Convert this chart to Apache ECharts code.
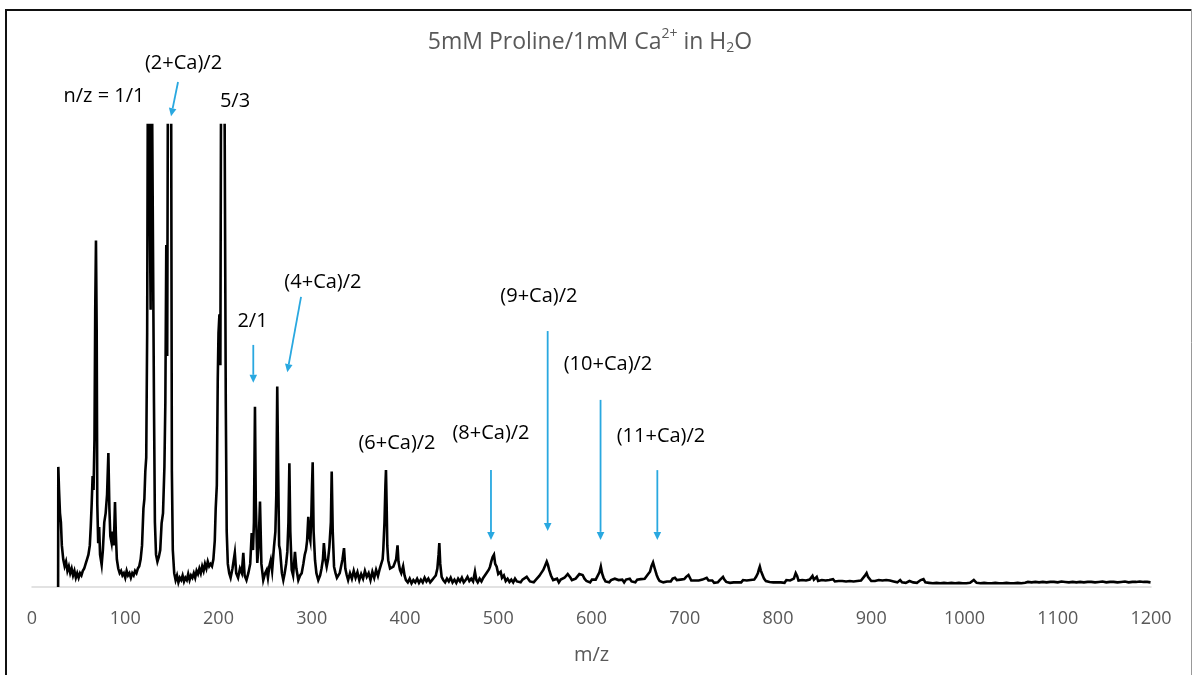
<!DOCTYPE html>
<html><head><meta charset="utf-8">
<script src="https://cdn.jsdelivr.net/npm/echarts@6/dist/echarts.min.js"></script>
<style>html,body{margin:0;padding:0;background:#fff}#c{width:1193px;height:675px}</style>
</head><body><div id="c"></div>
<script>
// ---- data ----
const chartTitleParts = ['5mM Proline/1mM Ca', '2+', ' in H', '2', 'O'];
const xAxisName = 'm/z';
const xTickMin = 0, xTickMax = 1200, xTickStep = 100;

// [m/z, relative intensity] (values above 100 are off-scale / clipped)
const spectrum = [
[28,0],[28.2,26],[29,21],[30,16],[31,14],[32,9],[33.5,6],[35,4.5],[36.5,5.5],[38,3.5],[39.5,4.5],[41,3],[42.5,4],[44,2.5],[45.5,3.5],[47,2],[48.5,3],[50,2],[51.5,3],[53,2.5],[54.5,3.5],[56,4],[57.5,5],[59,6],[60.5,7],[62,9],[63,13],[64,18],[65,24],[66,21],[67,32],[67.8,60],[68.6,75],[69.4,55],[70,18],[71,9.5],[72,13],[73,7],[74.7,4.8],[76,8],[77.5,14],[79,16],[80.5,20],[81.9,29],[83,17],[84,11],[85.4,9.5],[86.5,12],[87.5,9],[88.3,13],[89,18.4],[90,11],[91,6],[92.5,4],[94,3],[95.5,3.5],[97,2.5],[98.5,3],[100,2],[101.5,3.5],[103,2.5],[104.5,3],[106,2],[107.5,3],[109,2.5],[110.5,3.5],[112,3],[113.5,4],[115,4.5],[116.5,6],[118,9],[119.5,17],[120.5,19],[121.5,25],[122.5,28],[123.5,55],[124.5,130],[125.5,130],[126.5,130],[127.2,60],[128,130],[129,130],[130,130],[130.8,40],[131.8,14],[133,7],[134.5,5.5],[136,6.5],[137.5,8],[139,13.8],[140.5,16],[142,26],[143,40],[144,74],[145,50],[146,130],[147,130],[148,130],[149,130],[150,25],[151,8],[152.5,3],
[154,1.5],[155.5,2.5],[157,1],[158.5,2],[160,1.5],[161.5,2.5],[163,1.2],[164.5,2],[166,1.5],[167.5,2.8],[169,1.5],[170.5,2.5],[172,2],[173.5,3],[175,2],[176.5,3.5],[178,2.8],[179.5,4],[181,3],[182.5,4.5],[184,3.5],[185.5,5],[187,4],[188.5,5.5],[190,4.5],[191.5,5],[193,4.5],[194.5,6],[196,10],[197,17],[198.2,22],[199.2,45],[200,55],[201,59],[202,48],[203,130],[204,130],[205,130],[206,130],[207,130],[207.8,40],[208.8,12],[210,5],[211.5,3],
[213,2],[215,4],[217.5,7.4],[219,3],[221,2],[223,4],[225,3],[226.6,7.4],[228,2.5],[230,1.5],[232,3],[234,5],[235.6,11.7],[237,8],[238,14],[239.1,39],[240,18],[241.6,5.2],[243,9],[244.5,18.5],[246,5],[248,1.5],[250,3],[251.7,3.7],[253,2],[254.5,4.5],[256,5.8],[257.5,3.5],[259.5,8.7],[261,12],[262,20],[263,43.4],[264,25],[265,9],[266,8],[268,3],[269.5,1.5],[271,3],[272.5,5],[273.8,7.6],[275,14],[276,26.8],[277,12],[278.5,3.7],[280,2.5],[282,7.6],[283.5,4],[285.6,1.5],[287.5,2.5],[289.2,3],[291,5],[292.5,7],[293.8,8],[295,10],[296.3,15.2],[297.5,11],[298.5,10],[299.5,15],[300.3,22],[301,27],[302,12],[303.5,5.8],[305,3],[307,1.5],[309,2.5],[310.5,4],[312,6],[313,9.5],[314.5,6],[316,4.4],[317.5,6],[318.9,8.7],[320.5,14],[321.4,25],[322.5,12],[323.9,4.4],[325.5,3],[327,2],[328.5,2.2],[330,3],[331.5,4.5],[333,6],[334.6,8.4],[336,4],[337.5,2.6],
[339,1.5],[341,3],[343,1.8],[345,3.5],[347,2],[349,3.2],[351,1.5],[353,2.8],[355,1.8],[357,3.5],[359,2.2],[361,3],[363,1.5],[365,3.3],[367,2],[369,3.7],[371,2.4],[373,4],[374.5,5],[376,6],[376.7,8],[378,14],[379,22],[379.6,25.3],[380.3,18],[381,9],[382,5.8],[384,4],[385.6,3.7],[387.5,4.4],[389.3,4.4],[390.5,6],[392,9],[393,5.5],[394.6,3.7],[396,3],[398,4.5],[399.5,2.5],[401,1.5],[403,1],[405,1.8],[407,0.8],[409,1.5],[411,1],[413,1.8],[415,0.9],[417,1.6],[419,1],[421,2],[423,1.2],[425,1.8],[427,1],[429,1.5],[431,2],[433,2.5],[434.7,4],[436,7],[436.8,9.5],[437.8,5],[439.3,2.2],[441,1.5],[443,1],
[445,1.8],[447,1.2],[449,2],[451,1],[453,1.6],[455,0.9],[457,1.8],[459,1.2],[461,2],[463,1],[465,1.5],[467,2.2],[469,1.3],[471,1.8],[473,1.2],[475,3.3],[476.5,1.5],[478,1],[480,1.8],[482,1.2],[484,2],[486,2.6],[488,3.2],[490,3.8],[491.2,4.4],[492.5,5.5],[494,6.5],[495.4,7],[496.7,5],[498.3,4.4],[500,2.8],[502.6,3.3],[504,2],[506,2.5],[508,1.3],[510,1.8],[512,1.1],[514,1.6],[516,1],[518,1.8],[520,1.2],[522,1.5],[524,1],[526,1.6],[528,2],[530.5,2.2],[532,1.8],[534,1.2],[536,1.6],[538,1],[540,1.5],[542,1.8],[544,2.4],[546,3],[548.3,3.7],[550,4.5],[552,5.5],[553.3,4.8],[554.6,3.7],[556.5,2.5],[558.9,1.5],[561,1.2],[563,1.8],[565,1],[567,1.6],[569,1.2],[571,2],[573,2.4],[574.5,2.8],[576,3],[577.5,2],[579,1.5],[581,1.3],[583,1.8],[585,2.2],[587,2.8],[588.7,3.1],[590.5,2.6],[592.5,1.8],[594.6,1.3],[596.5,1.5],[598.5,1],[600.5,1.6],[602.5,1.2],[604.5,1.6],[606.5,2],[608.5,3.2],[610,4.4],[611.3,3],[612.9,2],[615,1.2],[617,1.6],[619,1],[621,1.5],[623,1.2],[625,1.8],[627,2],[629,1.5],[631,1.2],[633,1.6],[635,1],[637,1.6],[639,1.2],[641,1.8],[643,1.2],[645,1.5],[647,1],[649,1.6],[651,1.2],[653,1.7],[655,1.4],[657,1.8],[659,2.2],[660.8,2.8],[662.7,3.3],[664.3,4.5],[666,5.3],[667.8,4],[669.9,2.6],[671.5,1.8],[673,1.3],[675,1.5],[677,1],[679,1.4],[681,1.2],[683,1.6],[685,1.2],[687,1.8],[689.5,2],[691.5,1.5],[693.5,1.2],[695.5,1.6],[697.5,1.2],[699.5,1.7],[701.5,2.2],[703,2.5],[704,2.6],[705.5,2],[707,1.4],[709,1],[711,1.4],[713,1.1],[715,1.4],[717,1],[719,1.6],[721,1.8],[723.5,2],[725.5,1.4],[727.5,1],[729.5,1.4],[731.5,0.9],[733.5,1.3],[735.5,1],[737.5,1.5],[739,1.9],[741,2.2],[742.5,1.6],[744.5,1.1],[746.5,1.4],[748.5,0.9],[750.5,1.3],[752.5,1],[754.5,1.4],[756.5,1],[758.5,1.3],[760.5,1],[762.5,1.5],[764.5,1.2],[766.5,1.4],[768.5,1],[770.5,1.5],[772.5,1.1],[774.5,1.6],[776.5,2.2],[778.5,3],[779.5,3.8],[780.5,4.4],[781.5,3.6],[783,2.8],[785,1.8],[787,1.3],[789,1.6],[791,1.1],[793,1.4],[795,1],[797,1.3],[799,1],
[801,1.4],[803,1],[805,1.3],[807,0.9],[809,1.5],[811,1.1],[813,1.4],[815,1.2],[817,1.8],[819,3],[820.5,2.4],[822,1.4],[824,1],[826,1.5],[828,1.1],[830,1.4],[832,1.2],[834,1.6],[836,1.9],[837,2.4],[838.5,1.6],[840,2],[841.5,2.2],[843,1.3],[845,1.1],[847,1.5],[849,1.2],[851,1.4],[853,1.1],[855,1.5],[857,1.6],[859,1.7],[861,1.2],[863,1],[865,1.3],[867,1],[869,1.3],[871,0.9],[873,1.2],[875,1],[877,1.3],[879,0.9],[881,1.2],[883,1],[885,1.3],[887,1.1],[889,1.4],[891,1.6],[893,2.4],[895,3],[896.5,2.2],[898,2],[900,1.3],[902,1],[904,1.3],[906,1],[908,1.5],[910,1.1],[912,1.4],[914,1],[916,1.5],[918,1.1],[920,1.4],[922,1.7],[924,1.2],[926,1.5],[928,1],[930,1.3],[931,1.5],[933,1],[935,1.3],[937,0.9],[939,1.2],[941,1.3],[943,1.7],[945,1],[947,1.3],[949,0.9],[951,1.2],[953,1.5],[955,1.1],[956,1.7],[958,1],[960,1.3],[962,0.9],[964,1.2],[966,0.8],[968,1.1],[970,0.9],[972,1.2],[974,0.8],[976,1.1],[978,0.9],[980,1.2],[982,0.8],[984,1.1],[986,0.9],[988,1.2],[990,0.8],[992,1],[994,0.9],[996,1.1],[998,0.8],[1000,1.1],[1002,0.8],[1004,1],[1006,0.9],[1008,1.2],[1010,1.5],[1011,1.3],[1013,0.9],[1015,1.1],[1017,0.8],[1019,1.1],[1021,0.9],[1023,1.2],[1025,0.8],[1027,1],[1029,0.8],[1031,1.1],[1033,0.9],[1035,1.1],[1037,0.8],[1039,1],[1041,0.8],[1043,1.1],[1045,0.9],[1047,1.1],[1049,0.8],[1051,1],[1053,0.8],[1055,1.1],[1057,0.9],[1059,1],[1061,0.8],[1063,1.1],[1065,0.9],[1067,1.2],[1068,1.1],[1070,0.8],[1072,1],[1074,0.8],[1076,1.1],[1078,0.8],[1080,1],[1082,0.9],[1084,1.1],[1086,0.8],[1088,1],[1090,0.8],[1092,1.1],[1094,0.9],[1096,1.1],[1098,0.8],[1100,1],[1102,0.8],[1104,1.2],[1106,0.9],[1108,1.1],[1110,0.8],[1112,1],[1114,0.8],[1116,1.1],[1118,0.9],[1120,1],[1122,0.8],[1124,1.1],[1126,0.8],[1128,1],[1130,0.8],[1132,1.1],[1134,1.3],[1136,1.1],[1138,0.8],[1140,1],[1142,0.8],[1144,1.1],[1146,0.9],[1148,1.2],[1150,0.8],[1152,1],[1154,0.8],[1156,1.1],[1158,0.9],[1160,1.1],[1162,0.8],[1164,1],[1166,0.8],[1168,1.1],[1170,0.9],[1172,1.2],[1174,0.8],[1176,1],[1178,0.8],[1180,1.1],[1182,0.9],[1184,1.1],[1186,0.8],[1188,1.2],[1190,0.9],[1192,1.1],[1194,0.8],[1196,1.1],[1198,0.9],[1199.5,1]
];

// annotation text labels: [label, m/z, intensity] (label centre)
const annotationLabels = [
  ['n/z = 1/1', 77.2, 106.3],
  ['(2+Ca)/2', 162.5, 113.4],
  ['5/3', 217.7, 105.2],
  ['2/1', 236.5, 57.6],
  ['(4+Ca)/2', 312, 66.0],
  ['(9+Ca)/2', 543.6, 63.0],
  ['(10+Ca)/2', 617.7, 48.3],
  ['(6+Ca)/2', 391.4, 31.2],
  ['(8+Ca)/2', 492.2, 33.3],
  ['(11+Ca)/2', 674.5, 32.7]
];
// annotation arrows: [fromMz, fromI, toMz, toI] (arrow head at "to")
const annotationArrows = [
  [156.6, 109.3, 149.1, 101.9],
  [237.3, 52.4, 237.3, 44.2],
  [288.5, 62.8, 273.8, 46.5],
  [492.2, 25.3, 492.2, 10.2],
  [553.0, 55.4, 553.0, 12.1],
  [609.7, 40.5, 609.7, 10.2],
  [670.6, 25.3, 670.6, 10.2]
];

// ---- chart ----
const FONT = '"Open Sans", "DejaVu Sans", sans-serif';
const chart = echarts.init(document.getElementById('c'), null, {renderer: 'canvas'});
chart.setOption({
  animation: false,
  backgroundColor: '#ffffff',
  title: {
    text: '{m|' + chartTitleParts[0] + '}{sup|' + chartTitleParts[1] + '}{m|' + chartTitleParts[2] + '}{sub|' + chartTitleParts[3] + '}{m|' + chartTitleParts[4] + '}',
    left: 585, top: 22, textAlign: 'center',
    textStyle: {
      fontWeight: 'normal',
      rich: {
        m: {fontSize: 23, color: '#595959', fontFamily: FONT, fontWeight: 'normal'},
        sup: {fontSize: 14, color: '#595959', fontFamily: FONT, fontWeight: 'normal', padding: [0, 0, 16, 0]},
        sub: {fontSize: 14, color: '#595959', fontFamily: FONT, fontWeight: 'normal', padding: [12, 0, 0, 0]}
      }
    }
  },
  grid: {left: 32, right: 42, top: 125, bottom: 88, containLabel: false},
  xAxis: {
    type: 'value', min: xTickMin, max: xTickMax, interval: xTickStep,
    name: xAxisName, nameLocation: 'middle', nameGap: 58,
    nameTextStyle: {color: '#595959', fontSize: 20, fontFamily: FONT},
    axisLine: {show: true, onZero: false, lineStyle: {color: '#d9d9d9', width: 1.5}},
    axisTick: {show: false},
    splitLine: {show: false},
    axisLabel: {color: '#595959', fontSize: 18, fontFamily: FONT, margin: 23,
      formatter: function (v) { return String(v); }}
  },
  yAxis: {
    type: 'value', min: 0, max: 100, show: false, splitLine: {show: false}
  },
  series: [{
    type: 'line', data: spectrum, showSymbol: false, symbol: 'none',
    clip: true, sampling: null,
    lineStyle: {color: '#000000', width: 2.6, join: 'miter'},
    z: 3
  }]
});

// ---- overlays (border, annotations) ----
const graphics = [];
graphics.push({type: 'line', shape: {x1: 6, y1: 10, x2: 6, y2: 675}, style: {stroke: '#111', lineWidth: 2}, silent: true});
graphics.push({type: 'line', shape: {x1: 5, y1: 10, x2: 1191.5, y2: 10}, style: {stroke: '#111', lineWidth: 2}, silent: true});
graphics.push({type: 'line', shape: {x1: 1191.5, y1: 10, x2: 1191.5, y2: 675}, style: {stroke: '#999', lineWidth: 1}, silent: true});

annotationLabels.forEach(function (a) {
  const p = chart.convertToPixel({gridIndex: 0}, [a[1], a[2]]);
  graphics.push({
    type: 'text', x: p[0], y: p[1], silent: true, z: 10,
    style: {text: a[0], fill: '#000', fontSize: 20, fontFamily: FONT, align: 'center', verticalAlign: 'middle'}
  });
});
const ARROW = '#29A8E0';
annotationArrows.forEach(function (a) {
  const p0 = chart.convertToPixel({gridIndex: 0}, [a[0], a[1]]);
  const p1 = chart.convertToPixel({gridIndex: 0}, [a[2], a[3]]);
  const dx = p1[0] - p0[0], dy = p1[1] - p0[1];
  const len = Math.sqrt(dx * dx + dy * dy);
  const ux = dx / len, uy = dy / len;
  const headLen = 8, headHalf = 3.8;
  const bx = p1[0] - ux * headLen, by = p1[1] - uy * headLen;
  graphics.push({type: 'line', silent: true, z: 10,
    shape: {x1: p0[0], y1: p0[1], x2: bx, y2: by},
    style: {stroke: ARROW, lineWidth: 1.8}});
  graphics.push({type: 'polygon', silent: true, z: 10,
    shape: {points: [[p1[0], p1[1]], [bx - uy * headHalf, by + ux * headHalf], [bx + uy * headHalf, by - ux * headHalf]]},
    style: {fill: ARROW}});
});
chart.setOption({graphic: graphics});
</script>
</body></html>
